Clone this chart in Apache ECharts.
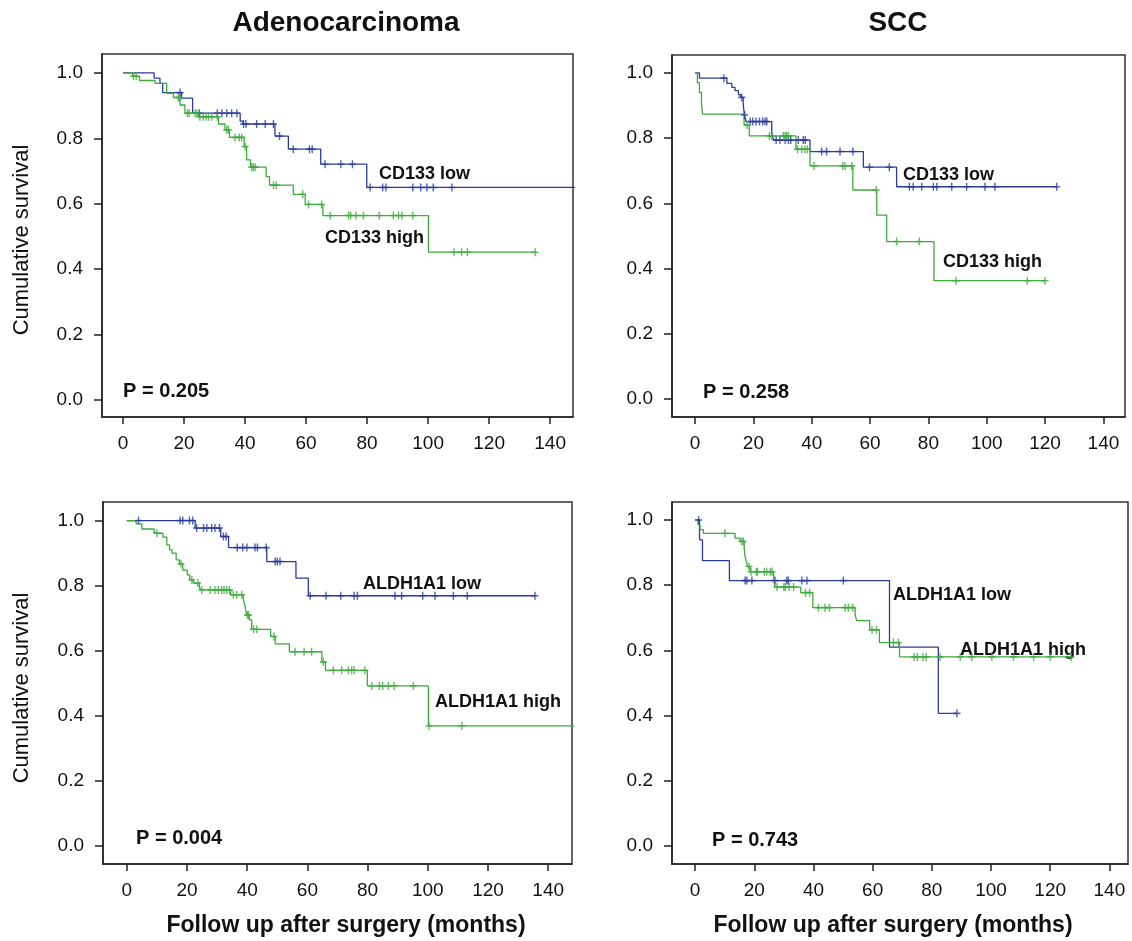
<!DOCTYPE html>
<html><head><meta charset="utf-8">
<script src="https://cdn.jsdelivr.net/npm/echarts@6/dist/echarts.min.js"></script>
<style>html,body{margin:0;padding:0;background:#fff}#c{width:1132px;height:941px}</style>
</head><body><div id="c"></div>
<script>
// ---------- Data: Kaplan-Meier events [time (months), survival after event] ----------
const xTickValues = [0, 20, 40, 60, 80, 100, 120, 140];
const yTickValues = [0, 0.2, 0.4, 0.6, 0.8, 1.0];
const panelTitles = ['Adenocarcinoma', 'SCC'];
const pValues = ['P = 0.205', 'P = 0.258', 'P = 0.004', 'P = 0.743'];
const groupLabels = [['CD133 low', 'CD133 high'], ['CD133 low', 'CD133 high'], ['ALDH1A1 low', 'ALDH1A1 high'], ['ALDH1A1 low', 'ALDH1A1 high']];

// Adenocarcinoma, CD133
const adenoCD133LowEvents = [[10.2,0.984],[12.1,0.968],[13.0,0.94],[19.2,0.923],[22.8,0.877],[38.4,0.853],[39.3,0.844],[49.8,0.807],[54.2,0.767],[64.8,0.721],[79.9,0.65]];
const adenoCD133LowCensored = [18.7,25.0,30.9,32.4,34.0,35.6,37.3,39.5,40.3,43.8,46.6,49.3,51.3,55.8,61.1,62.0,66.2,71.4,75.2,81.0,85.1,86.2,95.0,97.6,99.6,101.7,107.8];
const adenoCD133LowEnd = 150;
const adenoCD133HighEvents = [[3.2,0.99],[5.4,0.977],[10.5,0.968],[14.3,0.938],[16.5,0.925],[18.7,0.902],[20.3,0.877],[24.7,0.866],[31.3,0.844],[33.4,0.826],[34.9,0.803],[39.7,0.775],[40.5,0.734],[41.8,0.712],[46.9,0.683],[48.0,0.657],[55.8,0.629],[59.7,0.598],[65.5,0.564],[100.1,0.452]];
const adenoCD133HighCensored = [3.4,4.3,18.1,18.5,21.1,21.7,23.6,24.2,25.2,26.3,27.2,28.0,29.1,30.9,34.0,34.5,36.7,38.1,38.9,40.0,42.2,42.7,43.3,49.3,50.2,58.9,60.8,65.1,67.9,73.9,74.6,76.4,78.8,84.0,88.6,90.3,91.4,95.0,108.5,111.0,112.9,135.1];
const adenoCD133HighEnd = 135.1;

// SCC, CD133
const sccCD133LowEvents = [[1.5,0.984],[10.9,0.968],[12.6,0.956],[13.7,0.946],[14.9,0.933],[15.7,0.925],[16.5,0.907],[16.9,0.871],[17.5,0.851],[26.3,0.815],[26.9,0.794],[39.4,0.759],[57.7,0.711],[69.1,0.651]];
const sccCD133LowCensored = [9.9,16.0,17.0,18.9,19.8,20.9,22.1,23.2,24.0,24.6,27.8,29.1,30.9,32.0,32.8,35.4,37.1,37.8,43.4,45.1,49.7,54.1,59.8,66.6,73.5,74.8,77.7,81.7,82.9,88.0,93.1,99.4,102.8,124.0];
const sccCD133LowEnd = 124.0;
const sccCD133HighEvents = [[0.8,0.97],[1.5,0.94],[2.2,0.905],[2.6,0.874],[16.8,0.84],[18.6,0.807],[34.6,0.766],[39.4,0.715],[54.1,0.641],[62.3,0.564],[65.7,0.483],[81.9,0.363]];
const sccCD133HighCensored = [17.9,25.5,26.3,30.3,30.9,31.4,32.0,35.1,36.6,37.7,38.5,40.8,50.6,51.4,53.7,62.1,69.1,76.9,89.5,113.9,120.0];
const sccCD133HighEnd = 120.0;

// Adenocarcinoma, ALDH1A1
const adenoALDHLowEvents = [[22.7,0.977],[31.2,0.951],[33.8,0.917],[46.5,0.874],[56.2,0.823],[60.3,0.769]];
const adenoALDHLowCensored = [3.9,17.7,18.6,20.8,21.9,23.2,25.5,26.6,28.2,29.3,30.8,32.1,33.0,36.7,38.5,39.9,42.6,43.4,46.3,49.3,50.0,50.9,60.9,66.2,71.1,75.5,76.6,89.1,91.3,98.3,102.4,108.5,113.1,135.6];
const adenoALDHLowEnd = 135.6;
const adenoALDHHighEvents = [[3.1,0.99],[5.0,0.974],[9.1,0.961],[12.0,0.949],[13.3,0.925],[14.2,0.91],[15.0,0.9],[16.4,0.879],[17.5,0.867],[18.6,0.848],[20.1,0.833],[20.9,0.818],[22.1,0.808],[24.1,0.795],[24.6,0.787],[34.5,0.772],[38.7,0.758],[39.3,0.736],[39.8,0.71],[40.7,0.695],[41.5,0.666],[47.8,0.644],[49.3,0.621],[54.0,0.597],[64.8,0.566],[66.0,0.54],[79.9,0.492],[100.2,0.369]];
const adenoALDHHighCensored = [10.0,18.0,21.6,23.6,24.9,27.7,29.3,30.4,31.5,32.3,33.2,34.1,35.4,36.5,38.2,40.1,40.4,42.1,43.2,48.9,55.9,58.9,61.4,65.3,68.6,71.4,73.6,74.7,75.5,79.1,81.4,83.9,85.0,86.9,88.8,95.2,100.4,111.3];
const adenoALDHHighEnd = 150;

// SCC, ALDH1A1
const sccALDHLowEvents = [[1.5,0.939],[2.5,0.875],[11.6,0.814],[65.7,0.61],[82.2,0.407]];
const sccALDHLowCensored = [1.2,16.9,17.5,19.2,27.0,31.0,31.5,36.1,37.8,50.1,88.5];
const sccALDHLowEnd = 88.5;
const sccALDHHighEvents = [[1.0,0.985],[1.7,0.97],[2.8,0.959],[13.5,0.944],[15.2,0.934],[16.6,0.913],[16.9,0.888],[17.3,0.872],[17.8,0.857],[18.6,0.841],[26.5,0.816],[27.1,0.794],[35.7,0.777],[39.8,0.731],[54.1,0.709],[54.6,0.691],[59.0,0.663],[62.3,0.624],[69.1,0.58]];
const sccALDHHighCensored = [10.1,15.8,16.3,18.2,18.9,20.7,21.1,23.4,24.2,25.4,26.0,27.7,30.0,30.5,31.8,33.3,37.3,38.7,41.7,43.9,45.4,50.7,51.8,53.3,59.8,61.3,67.0,68.7,74.0,75.1,77.0,78.1,82.8,89.6,93.5,100.3,107.6,114.4,120.0,127.0];
const sccALDHHighEnd = 127.0;

// ---------- Layout / style ----------
const BLUE = '#2b3b9b', GREEN = '#3cab3c', INK = '#111';
const FONT = "'Liberation Sans', Arial, Helvetica, sans-serif";
const grids = [
  {left:102, top:54, width:471, height:363, xmin:-6.9, xmax:147.5, ymin:-0.052, ymax:1.058},
  {left:672, top:55, width:453, height:362, xmin:-7.9, xmax:147.4, ymin:-0.055, ymax:1.055},
  {left:103, top:502, width:469, height:362, xmin:-7.9, xmax:147.9, ymin:-0.055, ymax:1.057},
  {left:672, top:502, width:456, height:362, xmin:-7.8, xmax:146.3, ymin:-0.055, ymax:1.055}
];
const panels = [
  [[adenoCD133LowEvents, adenoCD133LowCensored, adenoCD133LowEnd, BLUE], [adenoCD133HighEvents, adenoCD133HighCensored, adenoCD133HighEnd, GREEN]],
  [[sccCD133LowEvents, sccCD133LowCensored, sccCD133LowEnd, BLUE], [sccCD133HighEvents, sccCD133HighCensored, sccCD133HighEnd, GREEN]],
  [[adenoALDHLowEvents, adenoALDHLowCensored, adenoALDHLowEnd, BLUE], [adenoALDHHighEvents, adenoALDHHighCensored, adenoALDHHighEnd, GREEN]],
  [[sccALDHLowEvents, sccALDHLowCensored, sccALDHLowEnd, BLUE], [sccALDHHighEvents, sccALDHHighCensored, sccALDHHighEnd, GREEN]]
];

function kmSteps(events, end) {
  const pts = [[0, 1]];
  let s = 1;
  for (const [t, v] of events) { pts.push([t, s]); pts.push([t, v]); s = v; }
  pts.push([end, s]);
  return pts;
}
function survivalAt(events, time) {
  let s = 1;
  for (const [t, v] of events) { if (t <= time) s = v; else break; }
  return s;
}
function censorMarks(events, times) { return times.map(t => [t, survivalAt(events, t)]); }

const PLUS = 'path://M4,0H6V4H10V6H6V10H4V6H0V4H4Z';
const axisLineStyle = {color:'#222', width:1.5};
const option = {
  animation:false,
  backgroundColor:'#fff',
  grid: grids.map(g => ({left:g.left, top:g.top, width:g.width, height:g.height, show:true, borderColor:'#333', borderWidth:1.5, backgroundColor:'transparent'})),
  xAxis: grids.map((g, i) => ({
    type:'value', gridIndex:i, min:g.xmin, max:g.xmax,
    axisLine:{show:true, onZero:false, lineStyle:axisLineStyle},
    axisTick:{show:true, length:7, customValues:xTickValues, lineStyle:axisLineStyle},
    axisLabel:{customValues:xTickValues, margin:17, fontSize:19, color:INK, fontFamily:FONT},
    splitLine:{show:false}
  })),
  yAxis: grids.map((g, i) => ({
    type:'value', gridIndex:i, min:g.ymin, max:g.ymax,
    axisLine:{show:true, onZero:false, lineStyle:axisLineStyle},
    axisTick:{show:true, length:8, customValues:yTickValues, lineStyle:axisLineStyle},
    axisLabel:{customValues:yTickValues, margin:19, fontSize:19, color:INK, fontFamily:FONT, formatter:v => v.toFixed(1)},
    splitLine:{show:false}
  })),
  series: []
};
panels.forEach((groups, i) => {
  groups.forEach(([ev, cens, end, color]) => {
    option.series.push({type:'line', xAxisIndex:i, yAxisIndex:i, data:kmSteps(ev, end), symbol:'none', clip:true,
      lineStyle:{color, width:1.3}, z:3});
    option.series.push({type:'scatter', xAxisIndex:i, yAxisIndex:i, data:censorMarks(ev, cens), symbol:PLUS, symbolSize:[7,8],
      itemStyle:{color}, z:4});
  });
});

// Texts
const txt = (text, x, y, size, weight, align) => ({type:'text', x, y, silent:true,
  style:{text, fill:INK, font:`${weight} ${size}px ${FONT}`, textAlign:align || 'left', textVerticalAlign:'middle'}});
const labelPos = [
  [[379,174],[325,238],[123,391]],
  [[903,175],[943,262],[703,392]],
  [[363,584],[435,702],[136,838]],
  [[893,595],[960,650],[712,840]]
];
const graphics = [
  txt(panelTitles[0], 346, 23, 28, 'bold', 'center'),
  txt(panelTitles[1], 898, 23, 28, 'bold', 'center'),
  txt('Follow up after surgery (months)', 346, 926, 23, 'bold', 'center'),
  txt('Follow up after surgery (months)', 893, 926, 23, 'bold', 'center')
];
labelPos.forEach((p, i) => {
  graphics.push(txt(groupLabels[i][0], p[0][0], p[0][1], 18, 'bold'));
  graphics.push(txt(groupLabels[i][1], p[1][0], p[1][1], 18, 'bold'));
  graphics.push(txt(pValues[i], p[2][0], p[2][1], 20, 'bold'));
});
[240, 688].forEach(cy => {
  graphics.push({type:'text', x:22, y:cy, rotation:Math.PI/2, silent:true,
    style:{text:'Cumulative survival', fill:INK, font:`normal 22px ${FONT}`, textAlign:'center', textVerticalAlign:'middle'}});
});
option.graphic = graphics;

const chart = echarts.init(document.getElementById('c'), null, {renderer:'canvas'});
chart.setOption(option);
</script></body></html>
